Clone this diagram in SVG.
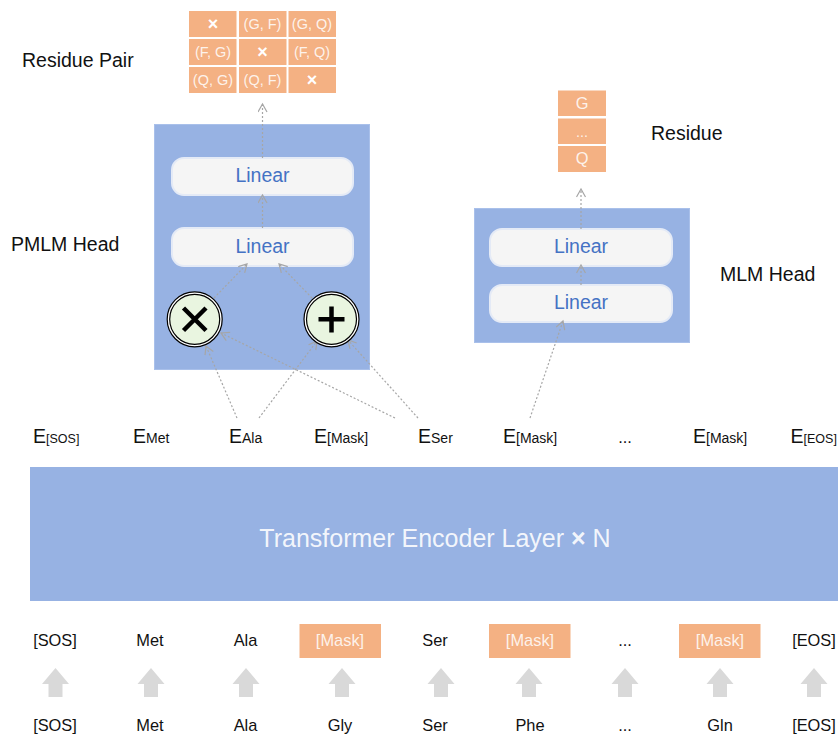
<svg xmlns="http://www.w3.org/2000/svg" width="838" height="734" viewBox="0 0 838 734">
<style>
text{font-family:"Liberation Sans",Arial,sans-serif}
.lab{font-size:19.500px;fill:#111}
.tok{font-size:16.400px;fill:#111;text-anchor:middle}
.wt{fill:#fff;text-anchor:middle;font-size:14.500px;fill-opacity:.85}
.x{font-size:18px;font-weight:bold;fill-opacity:1}
.big{font-size:16.400px}
.cell{fill:#f4b183}
.box{fill:#97b2e3;stroke:#a9c0ea;stroke-width:1}
.lin{fill:#f5f5f5;stroke:#e4eaf6;stroke-width:2}
.lt{font-size:19.500px;fill:#4472c4;text-anchor:middle}
.e{font-size:19.500px;fill:#111}
.e tspan{font-size:14px}
.e tspan.s{font-size:12.500px}
.con{fill:none;stroke:#a6a6a6;stroke-width:1.200;stroke-dasharray:2 2;marker-end:url(#a)}
.up{fill:#d9d9d9}
.ring{fill:#e9f5e0;stroke:#000;stroke-width:1.200}
.ring0{fill:#fff;stroke:#000;stroke-width:1.200}
.sym{stroke:#000;stroke-width:4.500;fill:none}
</style>
<defs>
<marker id="a" markerWidth="12" markerHeight="12" refX="9" refY="5" orient="auto" markerUnits="userSpaceOnUse"><path d="M1 .5L9 5L1 9.500" fill="none" stroke="#a6a6a6" stroke-width="1.200"/></marker>
<path id="u" class="up" d="M0 0L13.500 16H7V29H-7V16H-13.500Z"/>
</defs>
<g id="pair-table">
<rect class="cell" x="189" y="11" width="47.500" height="26"/><rect class="cell" x="239" y="11" width="47.500" height="26"/><rect class="cell" x="288.500" y="11" width="47.500" height="26"/>
<rect class="cell" x="189" y="39" width="47.500" height="26"/><rect class="cell" x="239" y="39" width="47.500" height="26"/><rect class="cell" x="288.500" y="39" width="47.500" height="26"/>
<rect class="cell" x="189" y="67" width="47.500" height="26"/><rect class="cell" x="239" y="67" width="47.500" height="26"/><rect class="cell" x="288.500" y="67" width="47.500" height="26"/>
<text class="wt x" x="213" y="30">×</text><text class="wt" x="262.500" y="29">(G, F)</text><text class="wt" x="312" y="29">(G, Q)</text>
<text class="wt" x="213" y="57">(F, G)</text><text class="wt x" x="262.500" y="58">×</text><text class="wt" x="312" y="57">(F, Q)</text>
<text class="wt" x="213" y="85">(Q, G)</text><text class="wt" x="262.500" y="85">(Q, F)</text><text class="wt x" x="312" y="86">×</text>
</g>
<text class="lab" x="22" y="67">Residue Pair</text>
<text class="lab" x="11" y="251">PMLM Head</text>
<text class="lab" x="651" y="140">Residue</text>
<text class="lab" x="720" y="281">MLM Head</text>
<g id="residue-table">
<rect class="cell" x="558" y="90.500" width="48" height="25.500"/><rect class="cell" x="558" y="118.500" width="48" height="25.500"/><rect class="cell" x="558" y="146" width="48" height="26"/>
<text class="wt big" x="582" y="109">G</text><text class="wt" x="582" y="137">...</text><text class="wt big" x="582" y="164">Q</text>
</g>
<g id="pmlm-head">
<rect class="box" x="154.500" y="124.500" width="215" height="245"/>
<g id="pmlm-linear-top"><rect class="lin" x="172" y="158" width="181" height="37" rx="12"/><text class="lt" x="262.500" y="182">Linear</text></g>
<g id="pmlm-linear-bottom"><rect class="lin" x="172" y="228" width="181" height="38" rx="12"/><text class="lt" x="262.500" y="253">Linear</text></g>
</g>
<g id="mlm-head">
<rect class="box" x="474.500" y="208.500" width="215" height="134"/>
<g id="mlm-linear-top"><rect class="lin" x="490" y="229" width="182" height="37" rx="12"/><text class="lt" x="581" y="253">Linear</text></g>
<g id="mlm-linear-bottom"><rect class="lin" x="490" y="285" width="182" height="37" rx="12"/><text class="lt" x="581" y="309">Linear</text></g>
</g>
<g id="connectors">
<path class="con" d="M262.500 158V104"/>
<path class="con" d="M262.500 228V195"/>
<path class="con" d="M214 298L247 264"/>
<path class="con" d="M312 298L279 264"/>
<path class="con" d="M237 418L206 346"/>
<path class="con" d="M259 418L317 341"/>
<path class="con" d="M395 418L221 333"/>
<path class="con" d="M418 418L348 340"/>
<path class="con" d="M530 418L563 321"/>
<path class="con" d="M581 285V265"/>
<path class="con" d="M581 229V189"/>
</g>
<g id="multiply">
<circle class="ring0" cx="194.700" cy="319.300" r="27.500"/><circle class="ring" cx="194.700" cy="319.300" r="25"/>
<path class="sym" d="M183.500 308L206 330.500M206 308L183.500 330.500"/>
</g>
<g id="add">
<circle class="ring0" cx="331.500" cy="319.300" r="27.500"/><circle class="ring" cx="331.500" cy="319.300" r="25"/>
<path class="sym" d="M318.500 319.300H344.500M331.500 306.500V332.500"/>
</g>
<g id="embeddings">
<text class="e" x="33" y="443">E<tspan class="s">[SOS]</tspan></text>
<text class="e" x="133" y="443">E<tspan>Met</tspan></text>
<text class="e" x="229" y="443">E<tspan>Ala</tspan></text>
<text class="e" x="314" y="443">E<tspan>[Mask]</tspan></text>
<text class="e" x="418" y="443">E<tspan>Ser</tspan></text>
<text class="e" x="503" y="443">E<tspan>[Mask]</tspan></text>
<text class="tok" x="625" y="443">...</text>
<text class="e" x="693" y="443">E<tspan>[Mask]</tspan></text>
<text class="e" x="790.500" y="443">E<tspan class="s">[EOS]</tspan></text>
</g>
<g id="encoder">
<rect x="30" y="467" width="808" height="134" fill="#97b2e3"/>
<text x="435" y="547" text-anchor="middle" font-size="25" fill="#fff" fill-opacity=".9">Transformer Encoder Layer <tspan font-weight="bold">×</tspan> N</text>
</g>
<g id="masked-tokens">
<g id="tok-sos"><text class="tok" x="55" y="645.500">[SOS]</text></g>
<g id="tok-met"><text class="tok" x="150" y="645.500">Met</text></g>
<g id="tok-ala"><text class="tok" x="245.500" y="645.500">Ala</text></g>
<g id="tok-mask1"><rect class="cell" x="299.500" y="624" width="81.500" height="34"/><text class="wt big" x="340" y="645.500">[Mask]</text></g>
<g id="tok-ser"><text class="tok" x="435" y="645.500">Ser</text></g>
<g id="tok-mask2"><rect class="cell" x="489" y="624" width="81.500" height="34"/><text class="wt big" x="530" y="645.500">[Mask]</text></g>
<text class="tok" x="625" y="645.500">...</text>
<g id="tok-mask3"><rect class="cell" x="679" y="624" width="81.500" height="34"/><text class="wt big" x="720" y="645.500">[Mask]</text></g>
<g id="tok-eos"><text class="tok" x="814" y="645.500">[EOS]</text></g>
</g>
<g id="up-arrows">
<use href="#u" x="55.500" y="668"/><use href="#u" x="151" y="668"/><use href="#u" x="246" y="668"/><use href="#u" x="342" y="668"/><use href="#u" x="441" y="668"/><use href="#u" x="529" y="668"/><use href="#u" x="625" y="668"/><use href="#u" x="720" y="668"/><use href="#u" x="814" y="668"/>
</g>
<g id="source-tokens">
<text class="tok" x="55" y="730.500">[SOS]</text><text class="tok" x="150" y="730.500">Met</text><text class="tok" x="245.500" y="730.500">Ala</text><text class="tok" x="340" y="730.500">Gly</text><text class="tok" x="435" y="730.500">Ser</text><text class="tok" x="530" y="730.500">Phe</text><text class="tok" x="625" y="730.500">...</text><text class="tok" x="720" y="730.500">Gln</text><text class="tok" x="814" y="730.500">[EOS]</text>
</g>
</svg>
